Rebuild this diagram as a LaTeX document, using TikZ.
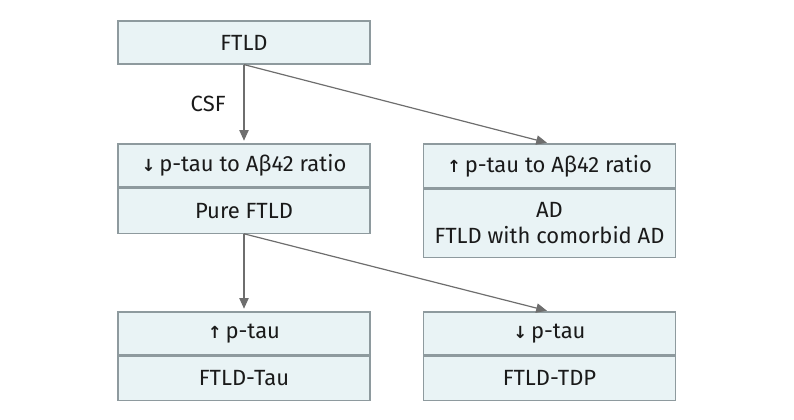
\documentclass[tikz,border=0pt]{standalone}
\usepackage{fontspec}
\setmainfont{Fira Sans}
\newfontfamily\arrowfont{DejaVu Sans}
\usetikzlibrary{arrows.meta}
\definecolor{boxfill}{HTML}{E9F3F5}
\definecolor{boxdraw}{HTML}{8E9A9E}
\definecolor{linkcol}{HTML}{6E6E6E}
\definecolor{txtcol}{HTML}{1A1A1A}
\newcommand{\upar}{{\arrowfont\bfseries\fontsize{12.5}{14}\selectfont ↑}}
\newcommand{\dnar}{{\arrowfont\bfseries\fontsize{12.5}{14}\selectfont ↓}}
\tikzset{
  cell/.style={draw=boxdraw, line width=0.9pt, fill=boxfill, text=txtcol,
    minimum width=252*0.75pt, inner sep=0pt, align=center,
    font=\fontsize{16.5}{19}\selectfont},
  link/.style={draw=linkcol, line width=0.9pt,
    -{Triangle[length=8pt,width=7pt]}, shorten >=2pt}
}
\begin{document}
\begin{tikzpicture}[x=0.75pt,y=-0.75pt]
\useasboundingbox (0,0) rectangle (794,420);
% top box
\node[cell, minimum height=43*0.75pt] (ftld) at (244,42.5) {FTLD};
% middle left
\node[cell, minimum height=43*0.75pt] (lh) at (244,165.5) {\dnar\,p-tau to Aβ42 ratio};
\node[cell, minimum height=45*0.75pt, anchor=north] (lb) at (lh.south) {Pure FTLD};
% middle right
\node[cell, minimum height=44*0.75pt] (rh) at (549.5,166) {\upar\,p-tau to Aβ42 ratio};
\node[cell, minimum height=68*0.75pt, anchor=north] (rb) at (rh.south) {AD\\FTLD with comorbid AD};
% bottom left
\node[cell, minimum height=43*0.75pt] (blh) at (244,333.5) {\upar\,p-tau};
\node[cell, minimum height=44*0.75pt, anchor=north] (blb) at (blh.south) {FTLD-Tau};
% bottom right
\node[cell, minimum height=43*0.75pt] (brh) at (549.5,333.5) {\dnar\,p-tau};
\node[cell, minimum height=44*0.75pt, anchor=north] (brb) at (brh.south) {FTLD-TDP};
% connectors
\draw[link] (ftld.south) -- node[left=10pt, text=txtcol, font=\fontsize{16.5}{19}\selectfont] (csf) {CSF} (lh.north);
\draw[link] (ftld.south) -- (rh.north);
\draw[link] (lb.south) -- (blh.north);
\draw[link] (lb.south) -- (brh.north);
\end{tikzpicture}
\end{document}
